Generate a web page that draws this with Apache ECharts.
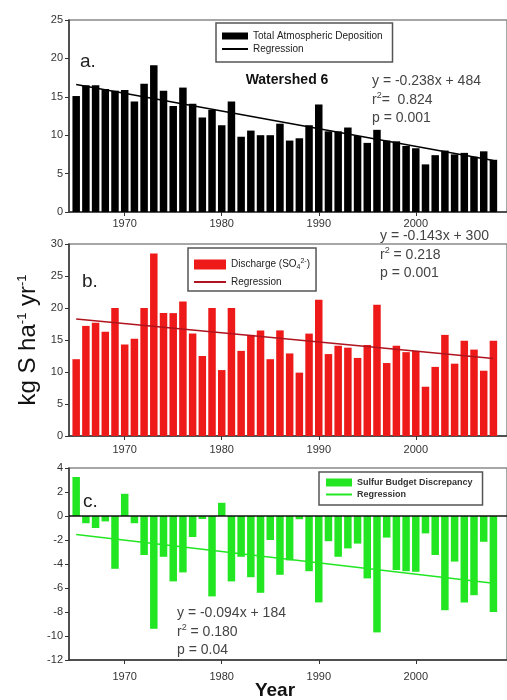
<!DOCTYPE html>
<html>
<head>
<meta charset="utf-8">
<script src="https://cdn.jsdelivr.net/npm/echarts@6/dist/echarts.min.js"></script>
<style>
html, body { margin: 0; padding: 0; background: #fff; }
#chart { width: 507px; height: 700px; }
</style>
</head>
<body>
<div id="chart"></div>
<script>
// years on the x axis (one bar per year)
const years = [1965, 1966, 1967, 1968, 1969, 1970, 1971, 1972, 1973, 1974,
  1975, 1976, 1977, 1978, 1979, 1980, 1981, 1982, 1983, 1984,
  1985, 1986, 1987, 1988, 1989, 1990, 1991, 1992, 1993, 1994,
  1995, 1996, 1997, 1998, 1999, 2000, 2001, 2002, 2003, 2004,
  2005, 2006, 2007, 2008]

// a. total atmospheric deposition
const deposition = [15.1, 16.5, 16.5, 16.0, 15.8, 15.9, 14.4, 16.7, 19.1, 15.8,
  13.8, 16.2, 14.1, 12.3, 13.3, 11.3, 14.4, 9.8, 10.6, 10.0,
  10.0, 11.5, 9.3, 9.6, 11.3, 14.0, 10.5, 10.5, 11.0, 9.9,
  9.0, 10.7, 9.3, 9.2, 8.6, 8.3, 6.2, 7.4, 8.0, 7.5,
  7.7, 7.2, 7.9, 6.8]

// b. discharge (SO4 2-)
const discharge = [12.0, 17.2, 17.7, 16.3, 20.0, 14.3, 15.2, 20.0, 28.5, 19.2,
  19.2, 21.0, 16.0, 12.5, 20.0, 10.3, 20.0, 13.3, 15.8, 16.5,
  12.0, 16.5, 12.9, 9.9, 16.0, 21.3, 12.8, 14.1, 13.8, 12.2,
  14.2, 20.5, 11.4, 14.1, 13.1, 13.3, 7.7, 10.8, 15.8, 11.3,
  14.9, 13.5, 10.2, 14.9]

// c. sulfur budget discrepancy
const discrepancy = [3.25, -0.6, -1.0, -0.45, -4.4, 1.85, -0.6, -3.25, -9.4, -3.4,
  -5.45, -4.7, -1.75, -0.25, -6.7, 1.1, -5.45, -3.4, -5.1, -6.4,
  -2.0, -4.9, -3.7, -0.27, -4.6, -7.2, -2.1, -3.4, -2.7, -2.3,
  -5.2, -9.7, -1.8, -4.5, -4.6, -4.65, -1.45, -3.25, -7.85, -3.8,
  -7.2, -6.6, -2.15, -8.0]

// regression line end points [year, value]
const fitA = [[1965, 16.6], [2008, 6.7]]
const fitB = [[1965, 18.3], [2008, 12.1]]
const fitC = [[1965, -1.55], [2008, -5.6]]

const yearTicks = [1970, 1980, 1990, 2000]

const font = '"Liberation Sans", Arial, sans-serif'
const pairs = (vals) => years.map((y, i) => [y, vals[i]])

const grid = (top) => ({
  left: 69, right: -3, top: top, height: 192,
  show: true, borderColor: '#8a8a8a', borderWidth: 1.5, backgroundColor: 'transparent'
})

const xAxis = (i, margin) => ({
  type: 'value', gridIndex: i, min: 1964.26, max: 2009.4,
  axisLine: { onZero: false, lineStyle: { color: '#333', width: 1.5 } },
  axisTick: { customValues: yearTicks, length: 4, lineStyle: { color: '#333' } },
  axisLabel: {
    customValues: yearTicks, color: '#333', fontSize: 11, fontFamily: font, margin: margin,
    formatter: (v) => String(v)
  },
  splitLine: { show: false }
})

const yAxis = (i, min, max, interval) => ({
  type: 'value', gridIndex: i, min: min, max: max, interval: interval,
  axisLine: { show: true, lineStyle: { color: '#333', width: 1.5 } },
  axisTick: { show: true, length: 4, lineStyle: { color: '#333' } },
  axisLabel: { color: '#333', fontSize: 11, fontFamily: font, margin: 6 },
  splitLine: { show: false }
})

// strip the panel tag from "Regression (a)" etc.
const legendName = (name) => {
  if (name.indexOf('Regression') === 0) return 'Regression'
  if (name === 'Discharge') return 'Discharge (SO{sub|4}{sup|2-})'
  return name
}

// line entries: hide the symbol, keep the line
const lineItem = (name) => ({ name: name, itemStyle: { opacity: 0 } })

const legend = (left, top, names, opts) => Object.assign({
  orient: 'vertical', left: left, top: top,
  data: names,
  itemWidth: 26, itemHeight: 7, itemGap: 3,
  padding: [8, 10, 8, 5],
  borderColor: '#555', borderWidth: 1.5, backgroundColor: '#fff',
  formatter: legendName,
  selectedMode: false,
  textStyle: {
    fontSize: 10, color: '#222', fontFamily: font,
    rich: {
      sub: { fontSize: 7, padding: [6, 0, 0, 0] },
      sup: { fontSize: 7, padding: [0, 0, 6, 0] }
    }
  }
}, opts)

const txt = (x, y, text, size, extra) => ({
  type: 'text', x: x, y: y, silent: true,
  style: Object.assign({
    text: text, fill: '#333', fontSize: size, fontFamily: font,
    textAlign: 'left', textVerticalAlign: 'middle',
    rich: { sup: { fontSize: 9, padding: [0, 0, 8, 0] } }
  }, extra || {})
})

const chart = echarts.init(document.getElementById('chart'))

chart.setOption({
  animation: false,
  backgroundColor: '#fff',
  grid: [grid(20), grid(244), grid(468)],
  xAxis: [xAxis(0, 6), xAxis(1, 8), xAxis(2, 11)],
  yAxis: [yAxis(0, 0, 25, 5), yAxis(1, 0, 30, 5), yAxis(2, -12, 4, 2)],
  legend: [
    legend(216, 23, [{ name: 'Total Atmospheric Deposition', icon: 'rect' }, lineItem('Regression (a)')]),
    legend(188, 248, [{ name: 'Discharge', icon: 'rect' }, lineItem('Regression (b)')],
      { itemWidth: 32, itemHeight: 10, itemGap: 6, padding: [10, 6, 4, 5] }),
    legend(319, 472, [{ name: 'Sulfur Budget Discrepancy', icon: 'rect' }, lineItem('Regression (c)')],
      { itemWidth: 26, itemHeight: 8, itemGap: 3, padding: [6, 10, 6, 6],
        textStyle: { fontSize: 9, fontWeight: 'bold', color: '#333', fontFamily: font } })
  ],
  series: [
    {
      name: 'Total Atmospheric Deposition', type: 'bar', xAxisIndex: 0, yAxisIndex: 0,
      data: pairs(deposition), barWidth: 7.5, itemStyle: { color: '#000' }
    },
    {
      name: 'Regression (a)', type: 'line', xAxisIndex: 0, yAxisIndex: 0,
      data: fitA, symbol: 'none', color: '#000', lineStyle: { color: '#000', width: 1.5 }
    },
    {
      name: 'Discharge', type: 'bar', xAxisIndex: 1, yAxisIndex: 1,
      data: pairs(discharge), barWidth: 7.5, itemStyle: { color: '#ee1a1a' }
    },
    {
      name: 'Regression (b)', type: 'line', xAxisIndex: 1, yAxisIndex: 1,
      data: fitB, symbol: 'none', color: '#9a1420', lineStyle: { color: '#b0141e', width: 1.5 }
    },
    {
      name: 'Sulfur Budget Discrepancy', type: 'bar', xAxisIndex: 2, yAxisIndex: 2,
      data: pairs(discrepancy), barWidth: 7.5, itemStyle: { color: '#22e622' },
      markLine: {
        silent: true, symbol: 'none', label: { show: false },
        lineStyle: { color: '#111', width: 1.5, type: 'solid' },
        data: [{ yAxis: 0 }]
      }
    },
    {
      name: 'Regression (c)', type: 'line', xAxisIndex: 2, yAxisIndex: 2,
      data: fitC, symbol: 'none', color: '#22e622', lineStyle: { color: '#22e622', width: 1.5 }
    }
  ],
  graphic: [
    txt(80, 62, 'a.', 19, { fill: '#222' }),
    txt(82, 282, 'b.', 19, { fill: '#222' }),
    txt(83, 502, 'c.', 19, { fill: '#222' }),
    txt(287, 80, 'Watershed 6', 14, { fill: '#111', fontWeight: 'bold', textAlign: 'center' }),
    txt(372, 81, 'y = -0.238x + 484', 14, { fill: '#444' }),
    txt(372, 100, 'r{sup|2}=  0.824', 14, { fill: '#444' }),
    txt(372, 118, 'p = 0.001', 14, { fill: '#444' }),
    txt(380, 236, 'y = -0.143x + 300', 14, { fill: '#444' }),
    txt(380, 255, 'r{sup|2} = 0.218', 14, { fill: '#444' }),
    txt(380, 273, 'p = 0.001', 14, { fill: '#444' }),
    txt(177, 613, 'y = -0.094x + 184', 14, { fill: '#444' }),
    txt(177, 632, 'r{sup|2} = 0.180', 14, { fill: '#444' }),
    txt(177, 650, 'p = 0.04', 14, { fill: '#444' }),
    {
      type: 'text', x: 28, y: 340, rotation: Math.PI / 2, silent: true,
      style: {
        text: 'kg S ha{sup|-1} yr{sup|-1}', fill: '#111', fontSize: 24, fontFamily: font,
        textAlign: 'center', textVerticalAlign: 'middle',
        rich: { sup: { fontSize: 13, padding: [0, 0, 12, 0] } }
      }
    },
    txt(275, 691, 'Year', 19, { fill: '#111', fontWeight: 'bold', textAlign: 'center' })
  ]
})
</script>
</body>
</html>
